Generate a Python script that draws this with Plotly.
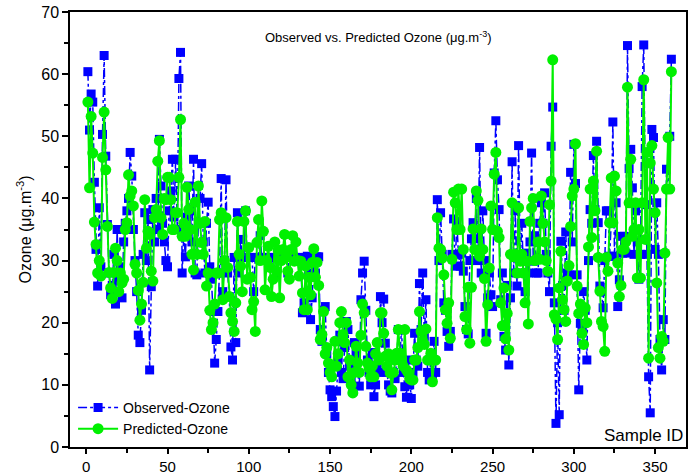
import plotly.graph_objects as go

sample_id = list(range(1, 361))

observed_ozone = [
    60.4, 51, 56.8, 55.5, 42.6, 31.8, 25.9, 38.5, 29, 50.3,
    63, 46.8, 35.8, 28, 24.5, 26, 31, 23, 35, 27,
    29, 24, 33, 36, 38, 40, 47.4, 43.6, 35, 30,
    25, 18, 16.8, 22, 31, 37.7, 30, 36.6, 12.4, 25.8,
    38.2, 33, 40, 35, 49.5, 42, 36, 33, 30, 29,
    38, 41.2, 46.3, 37, 46.3, 35, 59.3, 63.5, 28, 34,
    30.6, 37, 42, 38, 33, 46.3, 28, 27.7, 36, 40,
    45.6, 33, 28, 36, 39.4, 29, 27, 21.8, 13.5, 17.3,
    21.8, 28, 43.2, 25, 30, 43, 28, 24.2, 16.1, 14,
    30.5, 16.8, 37.7, 28, 33.4, 30.5, 30.5, 38, 30.5, 30.5,
    30.5, 30.5, 25, 30.5, 30.5, 30.5, 34, 30.5, 30.5, 30.5,
    30.5, 30.5, 29, 30.5, 30.5, 30.5, 28, 30.5, 30.5, 30.5,
    30.5, 30.5, 30.5, 28, 30.5, 30.5, 30.5, 30.5, 30.5, 30.5,
    30.5, 30.5, 21.6, 23.2, 30.5, 30.7, 28, 20.5, 24, 30.6,
    28, 30.6, 30.6, 18.9, 17, 22, 22.6, 15, 12, 9.2,
    8.1, 6.5, 4.9, 9, 14, 18, 12, 11, 16, 20.2,
    18.9, 13, 11, 9, 16.8, 15, 12, 9.8, 23.7, 28,
    29.9, 22, 14, 12, 10, 15.2, 8.1, 10, 13, 12,
    24.2, 20, 23.8, 16.7, 12, 10, 9, 8.7, 12, 11,
    14, 18.9, 15.1, 18.9, 12, 9.7, 8, 14, 10, 7.8,
    12, 18.3, 14, 13, 26.3, 18.9, 28, 17.8, 23.7, 12,
    10.8, 14, 10.8, 17, 12, 39.8, 30, 37.7, 31, 23.2,
    22, 18.6, 16.2, 18.6, 31, 36.7, 29.1, 36.3, 31, 29.1,
    31.2, 28.3, 22.6, 18.9, 18.2, 30, 33.5, 36.1, 33.5, 40,
    30, 48.2, 28, 38, 30, 18.3, 24, 28, 24.5, 22.6,
    44.1, 52.5, 43, 38.2, 23.7, 28, 17.8, 15.6, 26, 13.2,
    24, 45.9, 28, 38, 25.9, 48.5, 30, 36, 28, 25,
    31.2, 28, 33, 47.3, 29.9, 34, 28, 28, 36, 39.3,
    36, 40.9, 31, 28, 25, 48.4, 54.7, 23.2, 3.8, 20,
    5.2, 33.1, 26, 22, 34.6, 28, 27.7, 44.2, 33, 48.7,
    42.4, 27.7, 9.2, 19.9, 18.6, 25, 22, 14, 30, 38.2,
    36, 46.9, 38.2, 49.2, 36.1, 25.9, 25, 22.4, 30, 38,
    38, 30.7, 36.1, 52.3, 30.7, 39.3, 22.6, 26.9, 33.9, 31.2,
    33.9, 31.2, 64.6, 44.8, 47.9, 41.7, 31, 38, 33, 27,
    31, 58, 64.7, 39, 31, 11.3, 5.5, 51.1, 49.8, 31.8,
    39.3, 31, 17.3, 12.4, 20.5, 17.3, 44.7, 41.5, 50, 62.4,
]

predicted_ozone = [
    55.5, 41.7, 53.2, 47.3, 36.2, 32.6, 28, 30, 27.5, 46.6,
    53.9, 44.6, 35.5, 28.1, 25.6, 23.9, 28.1, 32, 30, 25,
    28, 26.4, 27, 35, 36.1, 43.8, 40.4, 41.2, 38.8, 29.4,
    28, 25.2, 20.4, 23, 26.5, 39.8, 32, 34.7, 34.2, 28.3,
    26.7, 36.9, 38.2, 46, 49.3, 36.9, 34.2, 40, 39.8, 43.4,
    43.4, 39.8, 35, 35, 37.7, 37.7, 43.4, 52.7, 33.9, 36,
    33.9, 41.8, 38.2, 35, 31, 28.5, 39.4, 31, 42, 36,
    32.9, 31, 36.3, 25.9, 28, 22, 18.9, 20, 23, 28,
    28, 36.6, 37.7, 23.7, 30, 36.9, 28.9, 24.2, 21.6, 20.2,
    18.6, 23.2, 36.3, 31, 29.1, 25, 36.3, 38, 27, 32.1,
    27.3, 22.1, 23.4, 18.6, 32.9, 36.6, 30, 39.6, 34.7, 25.3,
    30, 32.3, 28.9, 24.2, 27, 33, 28.3, 31.7, 24, 30,
    31.8, 34.2, 30.5, 28.3, 27, 31.8, 34, 29.9, 33, 30,
    27.5, 29.9, 24.8, 22.1, 29.1, 22.1, 27.3, 24.5, 29.7, 31.9,
    27.3, 29.7, 26, 17.3, 18.1, 21.8, 15, 16, 13.5, 12,
    11.3, 13, 17, 13, 15, 20, 21.8, 18.1, 16.8, 20,
    11.3, 14, 10, 8.7, 12, 16.2, 13.5, 12, 18, 23,
    21.6, 16.2, 13.5, 12.7, 11.3, 13, 11.3, 15, 16.8, 14,
    21.6, 21.6, 18.3, 14.6, 13, 15, 11.9, 9.2, 12, 14,
    15.1, 18.9, 15.1, 14, 13, 18.9, 12.4, 12, 11, 10.8,
    10.8, 14, 14, 16, 21.8, 18.6, 17, 16.5, 19, 14,
    14, 15.1, 10.5, 14, 14, 36.9, 32, 31.8, 30.4, 27.7,
    22.1, 19.9, 23.2, 17.5, 30.2, 41, 39.3, 35, 41.5, 35,
    41.5, 31.8, 21, 18.9, 25.7, 16.7, 25.7, 35.1, 31.8, 41.2,
    39.7, 30.7, 35.1, 31.8, 27.1, 17, 22.9, 28.8, 38.8, 35,
    43.9, 47.4, 34.7, 33.7, 23.2, 19.5, 25.6, 17.4, 21.5, 15.6,
    31, 39.3, 30.6, 31, 28, 38.5, 29.9, 31, 28, 23.2,
    29.9, 19.8, 36.3, 38.5, 40, 30, 30.2, 33, 30.2, 40.4,
    36, 33, 30, 28.3, 39, 42.8, 62.3, 21.3, 20.6, 17.3,
    25.6, 31.5, 23.7, 22.1, 20.2, 26.7, 29.2, 35.5, 40.4, 41.5,
    48.8, 25.9, 21.5, 23, 18.3, 16.5, 22.4, 20, 32.2, 41.5,
    33.7, 42.8, 38, 47.6, 30.5, 25.1, 20.2, 19.4, 15.4, 30.5,
    28.3, 36.1, 43.3, 36.1, 43.6, 41.2, 29.6, 24.2, 26, 31.8,
    31.8, 33, 57.9, 39.3, 46.3, 33.9, 35, 39.3, 27.2, 35,
    27.2, 39.3, 59.1, 33.4, 47.4, 14.3, 45.7, 48.5, 41.5, 37.7,
    26.4, 16, 14.3, 17.8, 17, 31.2, 41.5, 49.8, 41.5, 60.4,
]

x_ticks = [0, 50, 100, 150, 200, 250, 300, 350]
y_ticks = [0, 10, 20, 30, 40, 50, 60, 70]

FONT = "Liberation Sans, Arial, sans-serif"
BLUE = "#0000FF"
GREEN = "#00F000"

fig = go.Figure()

fig.add_trace(go.Scatter(
    x=sample_id, y=observed_ozone, name="Observed-Ozone",
    mode="lines+markers",
    line=dict(color=BLUE, width=1.5, dash="dashdot"),
    marker=dict(symbol="square", size=9, color=BLUE),
))

fig.add_trace(go.Scatter(
    x=sample_id, y=predicted_ozone, name="Predicted-Ozone",
    mode="lines+markers",
    line=dict(color=GREEN, width=2),
    marker=dict(symbol="circle", size=11, color=GREEN),
))

axis_common = dict(
    showline=True, linecolor="black", linewidth=1.5, mirror=True,
    ticks="outside", tickwidth=1.5, tickcolor="black",
    showgrid=False, zeroline=False, automargin=False,
)

fig.update_xaxes(
    range=[-10, 369], tickvals=x_ticks, ticklen=5,
    tickfont=dict(family=FONT, size=15, color="black"),
    minor=dict(ticks="outside", ticklen=4, tickwidth=1.5, tickcolor="black", dtick=25, tick0=25),
    **axis_common,
)
fig.update_yaxes(
    range=[0, 70], tickvals=y_ticks, ticklen=6,
    tickfont=dict(family=FONT, size=16, color="black"),
    minor=dict(ticks="outside", ticklen=4, tickwidth=1.5, tickcolor="black", dtick=5, tick0=5),
    title=dict(text="Ozone (\u03bcg.m<sup>-3</sup>)", font=dict(family=FONT, size=16, color="black"), standoff=6),
    **axis_common,
)

fig.update_layout(
    width=698, height=475,
    margin=dict(l=70, r=12, t=12, b=28),
    plot_bgcolor="white", paper_bgcolor="white",
    font=dict(family=FONT, color="black"),
    showlegend=True,
    legend=dict(
        x=0.005, y=0.005, xanchor="left", yanchor="bottom",
        bgcolor="rgba(0,0,0,0)", font=dict(family=FONT, size=14, color="black"),
        itemwidth=40, tracegroupgap=0,
    ),
    annotations=[
        dict(text="Observed vs. Predicted Ozone (\u03bcg.m<sup>-3</sup>)",
             x=0.5, y=0.965, xref="paper", yref="paper", showarrow=False,
             font=dict(family=FONT, size=13, color="black")),
        dict(text="Sample ID", x=0.998, y=0.0, xref="paper", yref="paper",
             xanchor="right", yanchor="bottom", showarrow=False,
             font=dict(family=FONT, size=17, color="black")),
    ],
)

fig.write_html("out.html")
